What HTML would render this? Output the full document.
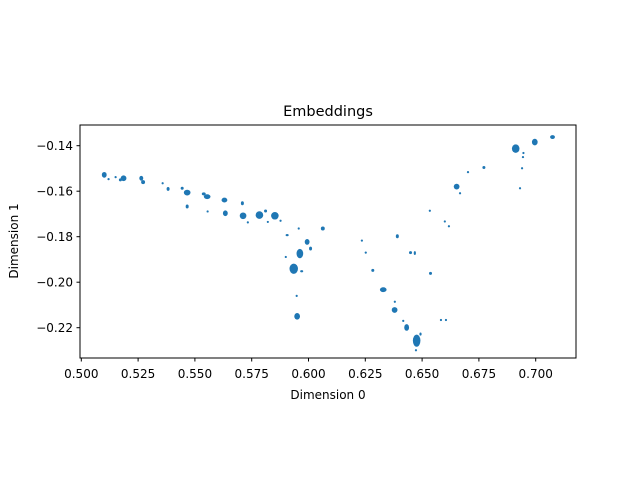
<!DOCTYPE html>
<html><head><meta charset="utf-8"><style>
html,body{margin:0;padding:0;background:#fff;}
svg{display:block;font-family:"DejaVu Sans","Liberation Sans",sans-serif;}
</style></head><body>
<svg id="chart" width="640" height="480" xmlns="http://www.w3.org/2000/svg">
<rect x="0" y="0" width="640" height="480" fill="#fff"/>
<text x="328" y="116" font-size="14.5" text-anchor="middle">Embeddings</text>
<g id="points"></g>
<g id="xticks"></g>
<g id="yticks"></g>
<rect x="80" y="125" width="496" height="233" fill="none" stroke="#000" stroke-width="1"/>
<text x="328" y="399" font-size="12" text-anchor="middle">Dimension 0</text>
<text x="18" y="241" font-size="12" text-anchor="middle" transform="rotate(-90 18 241)">Dimension 1</text>
</svg>
<script>
const xs=[0.5101,0.5120,0.5151,0.5172,0.5186,0.5264,0.5272,0.5358,0.5382,0.5444,0.5466,0.5466,0.5539,0.5554,0.5556,0.5630,0.5709,0.5634,0.5712,0.5733,0.5784,0.5811,0.5821,0.5852,0.5877,0.5957,0.6063,0.5906,0.5994,0.5962,0.6009,0.5900,0.5935,0.5970,0.5948,0.5950,
0.6912,0.6996,0.7074,0.6946,0.6944,0.6940,0.6931,0.6772,0.6702,0.6652,0.6667,0.6534,0.6600,0.6618,0.6391,0.6235,0.6252,0.6449,0.6468,0.6283,0.6537,0.6329,0.6380,0.6379,0.6417,0.6432,0.6583,0.6605,0.6476,0.6473,0.6493];
const ys=[-0.1528,-0.1547,-0.1538,-0.1550,-0.1543,-0.1543,-0.1560,-0.1565,-0.1590,-0.1587,-0.1606,-0.1667,-0.1612,-0.1624,-0.1689,-0.1639,-0.1653,-0.1697,-0.1708,-0.1737,-0.1705,-0.1687,-0.1735,-0.1708,-0.1730,-0.1764,-0.1764,-0.1793,-0.1823,-0.1874,-0.1852,-0.1889,-0.1941,-0.1952,-0.2060,-0.2150,
-0.1413,-0.1384,-0.1362,-0.1432,-0.1450,-0.1499,-0.1587,-0.1496,-0.1516,-0.1580,-0.1609,-0.1686,-0.1733,-0.1754,-0.1798,-0.1817,-0.1870,-0.1870,-0.1872,-0.1948,-0.1961,-0.2033,-0.2086,-0.2122,-0.2170,-0.2199,-0.2166,-0.2166,-0.2257,-0.2299,-0.2228];
const spreadX=[0.0008,0.0002,0.0002,0.0004,0.0010,0.0006,0.0006,0.0002,0.0004,0.0004,0.0012,0.0004,0.0006,0.0012,0.0002,0.0010,0.0004,0.0008,0.0012,0.0002,0.0014,0.0004,0.0002,0.0014,0.0002,0.0002,0.0006,0.0004,0.0008,0.0012,0.0004,0.0002,0.0016,0.0004,0.0002,0.0010,
0.0014,0.0010,0.0008,0.0002,0.0002,0.0002,0.0002,0.0004,0.0002,0.0010,0.0002,0.0002,0.0002,0.0002,0.0004,0.0002,0.0002,0.0004,0.0002,0.0004,0.0004,0.0012,0.0002,0.0010,0.0002,0.0008,0.0002,0.0002,0.0014,0.0002,0.0002];
const spreadY=[0.0010,0.0002,0.0002,0.0004,0.0010,0.0008,0.0006,0.0002,0.0006,0.0004,0.0010,0.0006,0.0004,0.0008,0.0002,0.0008,0.0006,0.0010,0.0012,0.0002,0.0014,0.0004,0.0002,0.0014,0.0002,0.0002,0.0006,0.0002,0.0010,0.0018,0.0006,0.0002,0.0020,0.0002,0.0002,0.0012,
0.0016,0.0012,0.0006,0.0002,0.0002,0.0002,0.0002,0.0004,0.0002,0.0010,0.0002,0.0002,0.0002,0.0002,0.0006,0.0002,0.0002,0.0004,0.0006,0.0004,0.0004,0.0008,0.0002,0.0010,0.0002,0.0012,0.0002,0.0002,0.0024,0.0002,0.0004];
const xTicks=[0.500,0.525,0.550,0.575,0.600,0.625,0.650,0.675,0.700];
const xTickLabels=["0.500","0.525","0.550","0.575","0.600","0.625","0.650","0.675","0.700"];
const yTicks=[-0.14,-0.16,-0.18,-0.20,-0.22];
const yTickLabels=["\u22120.14","\u22120.16","\u22120.18","\u22120.20","\u22120.22"];
const NS="http://www.w3.org/2000/svg";
function sx(v){return 81.3+(v-0.5)*2272;}
function sy(v){return 145.7+(-0.14-v)*2275;}
const pg=document.getElementById('points');
for(let i=0;i<xs.length;i++){
  const e=document.createElementNS(NS,'ellipse');
  
  
  e.setAttribute('cx',sx(xs[i]));e.setAttribute('cy',sy(ys[i]));
  e.setAttribute('rx',Math.max(1.1,spreadX[i]*2272+0.6));
  e.setAttribute('ry',Math.max(1.1,spreadY[i]*2275+0.6));
  e.setAttribute('fill','#1f77b4');
  pg.appendChild(e);
}
const xg=document.getElementById('xticks');
xTicks.forEach((t,i)=>{
  const x=sx(t);
  const l=document.createElementNS(NS,'line');
  
  
  l.setAttribute('x1',x);l.setAttribute('x2',x);l.setAttribute('y1',358);l.setAttribute('y2',361.5);l.setAttribute('stroke','#000');
  xg.appendChild(l);
  const tx=document.createElementNS(NS,'text');
  
  
  tx.setAttribute('x',x);tx.setAttribute('y',378);tx.setAttribute('font-size','12');tx.setAttribute('text-anchor','middle');
  tx.textContent=xTickLabels[i];xg.appendChild(tx);
});
const yg=document.getElementById('yticks');
yTicks.forEach((t,i)=>{
  const y=sy(t);
  const l=document.createElementNS(NS,'line');
  
  
  l.setAttribute('x1',76.5);l.setAttribute('x2',80);l.setAttribute('y1',y);l.setAttribute('y2',y);l.setAttribute('stroke','#000');
  yg.appendChild(l);
  const tx=document.createElementNS(NS,'text');
  
  
  tx.setAttribute('x',73);tx.setAttribute('y',y+4.5);tx.setAttribute('font-size','12');tx.setAttribute('text-anchor','end');
  tx.textContent=yTickLabels[i];yg.appendChild(tx);
});
</script>
</body></html>
